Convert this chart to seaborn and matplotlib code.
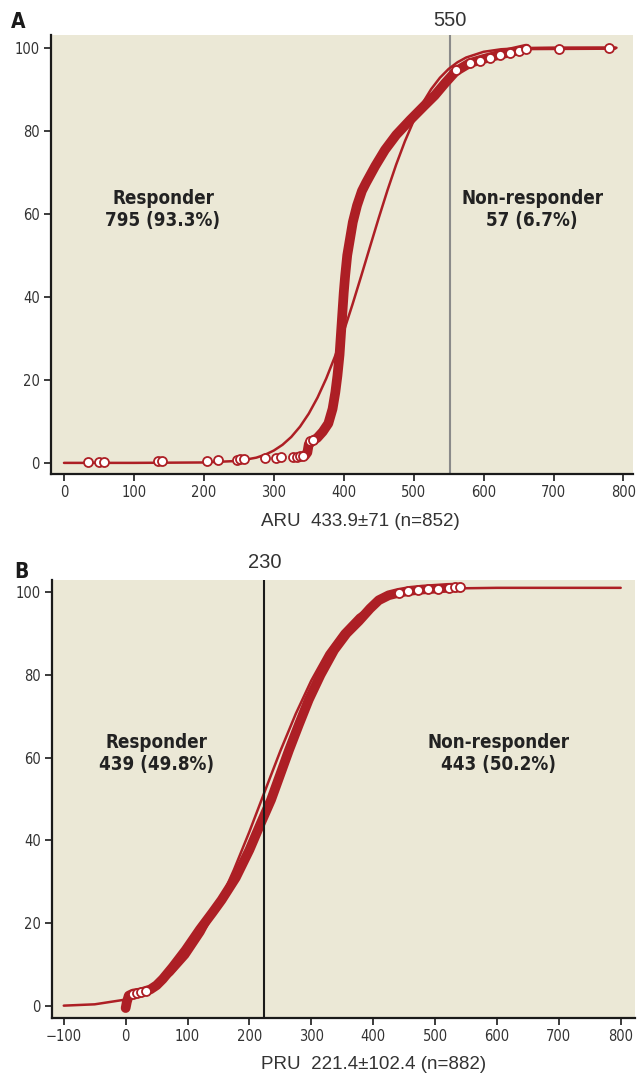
import numpy as np
import pandas as pd
import matplotlib
matplotlib.use('Agg')
import matplotlib.pyplot as plt
from matplotlib import font_manager
import seaborn as sns

# Panel A: ARU (fitted curve + empirical cumulative points)
aru_fit_x = [0, 100, 200, 250, 275, 287.5, 300, 312.5, 325, 337.5, 350, 362.5, 375, 387.5, 400, 412.5, 425,
             437.5, 450, 462.5, 475, 487.5, 500, 512.5, 525, 537.5, 550, 562.5, 575, 600, 625, 650, 700, 790]
aru_fit_y = [0, 0, 0.1, 0.48, 1.26, 1.96, 2.97, 4.36, 6.25, 8.73, 11.86, 15.72, 20.33, 25.66, 31.66, 38.16, 45.02,
             52.03, 58.97, 65.65, 71.87, 77.49, 82.41, 86.59, 90.03, 92.77, 94.9, 96.49, 97.65, 99.03, 99.64, 99.88, 100, 100]
aru_band_x = [345, 348, 350, 355, 362, 370, 378, 384, 388, 391, 394, 396, 398, 400, 402, 405, 409, 413, 419, 426,
              432, 445, 459, 475, 495, 515, 530, 545, 560, 580, 600, 620, 640, 661]
aru_band_y = [1.8, 2.5, 4.5, 5.3, 6.0, 7.5, 9.5, 13, 17, 21, 26, 31, 36, 41, 45, 50, 54, 58, 62, 65.5,
              67.5, 71.5, 75.4, 79, 82.6, 86, 88.5, 91.5, 94.3, 96.3, 97.3, 98.2, 99.0, 99.8]
aru_pts_x = [35, 50, 57, 135, 140, 205, 220, 247, 252, 257, 287, 303, 310, 327, 333, 338, 342, 352, 356,
             560, 581, 595, 609, 624, 638, 650, 661, 708, 780]
aru_pts_y = [0.1, 0.15, 0.2, 0.4, 0.45, 0.55, 0.6, 0.8, 0.9, 0.95, 1.2, 1.25, 1.3, 1.4, 1.5, 1.6, 1.7, 5.2, 5.4,
             94.6, 96.4, 96.9, 97.6, 98.3, 98.8, 99.3, 99.8, 99.8, 99.9]
aru_tail_x = [661, 788]
aru_tail_y = [99.8, 99.9]

# Panel B: PRU
pru_fit_x = [-100, -50, 0, 25, 50, 75, 100, 125, 150, 175, 200, 225, 250, 275, 300, 325, 350, 375, 400,
             425, 450, 500, 550, 600, 800]
pru_fit_y = [0.08, 0.4, 1.55, 2.8, 4.75, 7.7, 11.9, 17.5, 24.5, 32.9, 42.1, 51.9, 61.6, 70.6, 78.6, 85.3, 90.4,
             94.3, 96.9, 98.6, 99.7, 100.7, 100.9, 101, 101]
pru_band_x = [0, 2, 5, 12, 25, 40, 50, 60, 76, 97, 120, 140, 155, 178, 200, 218, 235, 250, 264, 280,
              296, 315, 337, 357, 377, 395, 409, 425, 441, 460, 480, 500, 520, 541]
pru_band_y = [-0.5, 1, 2.5, 3, 3.3, 4, 5, 6.5, 9.4, 13.5, 18.5, 22.5, 25.6, 31, 37.7, 44, 49.8, 56, 61.8, 68,
              74, 80, 86, 90, 93, 96, 98, 99.2, 99.8, 100.3, 100.6, 100.8, 101, 101.1]
pru_pts_x = [12, 18, 25, 33, 441, 457, 473, 489, 505, 522, 533, 541]
pru_pts_y = [3, 3.2, 3.3, 3.6, 99.8, 100.2, 100.5, 100.7, 100.8, 101, 101.1, 101.1]

red = '#ad1f25'
bg = '#ebe8d6'

# узкий шрифт, если есть
narrow = 'Roboto'
fonts = font_manager.fontManager.ttflist
if any(f.name == 'DejaVu Sans' and f.stretch == 'condensed' for f in fonts):
    narrow = 'DejaVu Sans'
else:
    for f in fonts:
        if 'Narrow' in f.name or 'Condensed' in f.name:
            narrow = f.name
            break

sns.set_style('ticks')
plt.rcParams['font.family'] = [narrow, 'DejaVu Sans']
plt.rcParams['font.stretch'] = 'condensed'

fig = plt.figure(figsize=(6.42, 10.77), dpi=100)
ax1 = fig.add_axes([0.0794, 0.560, 0.907, 0.4076])
ax2 = fig.add_axes([0.081, 0.0548, 0.908, 0.4067])


def draw_panel(ax, fit_x, fit_y, band_x, band_y, pts_x, pts_y):
    sns.lineplot(x=fit_x, y=fit_y, ax=ax, color=red, linewidth=1.8, zorder=3)
    sns.lineplot(x=band_x, y=band_y, ax=ax, color=red, linewidth=7, zorder=4)
    sns.scatterplot(x=pts_x, y=pts_y, ax=ax, s=42, facecolor='white', edgecolor=red,
                    linewidth=1.3, zorder=5)


draw_panel(ax1, aru_fit_x, aru_fit_y, aru_band_x, aru_band_y, aru_pts_x, aru_pts_y)
sns.lineplot(x=aru_tail_x, y=aru_tail_y, ax=ax1, color=red, linewidth=2.5, zorder=3)
draw_panel(ax2, pru_fit_x, pru_fit_y, pru_band_x, pru_band_y, pru_pts_x, pru_pts_y)

ax1.axvline(552, color='#8a8a8a', linewidth=1.5, zorder=2)
ax2.axvline(223, color='#1a1a1a', linewidth=1.5, zorder=6)

ax1.set_xlim(-18.6, 814)
ax1.set_ylim(-2.65, 103.1)
ax2.set_xlim(-119, 823)
ax2.set_ylim(-2.9, 102.9)
ax1.set_xticks(range(0, 801, 100))
ax2.set_xticks(range(-100, 801, 100))
ax2.set_xticklabels(['\u2212100'] + [str(v) for v in range(0, 801, 100)])

for ax in (ax1, ax2):
    ax.set_facecolor(bg)
    ax.set_yticks(range(0, 101, 20))
    sns.despine(ax=ax)
    ax.spines['left'].set_linewidth(1.6)
    ax.spines['bottom'].set_linewidth(1.6)
    ax.spines['left'].set_color('#1a1a1a')
    ax.spines['bottom'].set_color('#1a1a1a')
    ax.tick_params(direction='out', length=5, width=1.2, colors='#1a1a1a',
                   labelcolor='#333333', labelsize=10.5, pad=3)

ax1.set_xlabel('ARU  433.9\u00b171 (n=852)', family='Liberation Sans', fontsize=13.5, color='#333333')
ax1.xaxis.set_label_coords(0.531, -0.109)
ax2.set_xlabel('PRU  221.4\u00b1102.4 (n=882)', family='Liberation Sans', fontsize=13.5, color='#333333')
ax2.xaxis.set_label_coords(0.552, -0.107)
for ax in (ax1, ax2):
    ax.xaxis.label.set_va('center')

txt = dict(ha='center', va='center', fontsize=13.5, fontweight='bold', color='#222222', linespacing=1.2)
ax1.text(141.6, 61.1, 'Responder\n795 (93.3%)', **txt)
ax1.text(669.5, 61.1, 'Non-responder\n57 (6.7%)', **txt)
ax2.text(50, 61, 'Responder\n439 (49.8%)', **txt)
ax2.text(602, 61, 'Non-responder\n443 (50.2%)', **txt)

fig.text(18 / 642, 1 - 22 / 1077, 'A', ha='center', va='center', fontsize=15, fontweight='bold', color='#1a1a1a')
fig.text(21 / 642, 1 - 572 / 1077, 'B', ha='center', va='center', fontsize=15, fontweight='bold', color='#1a1a1a')
fig.text(450 / 642, 1 - 20 / 1077, '550', ha='center', va='center', fontsize=14.5,
         family='Liberation Sans', color='#333333')
fig.text(265 / 642, 1 - 563 / 1077, '230', ha='center', va='center', fontsize=14.5,
         family='Liberation Sans', color='#333333')

fig.savefig('out.png', dpi=100)
